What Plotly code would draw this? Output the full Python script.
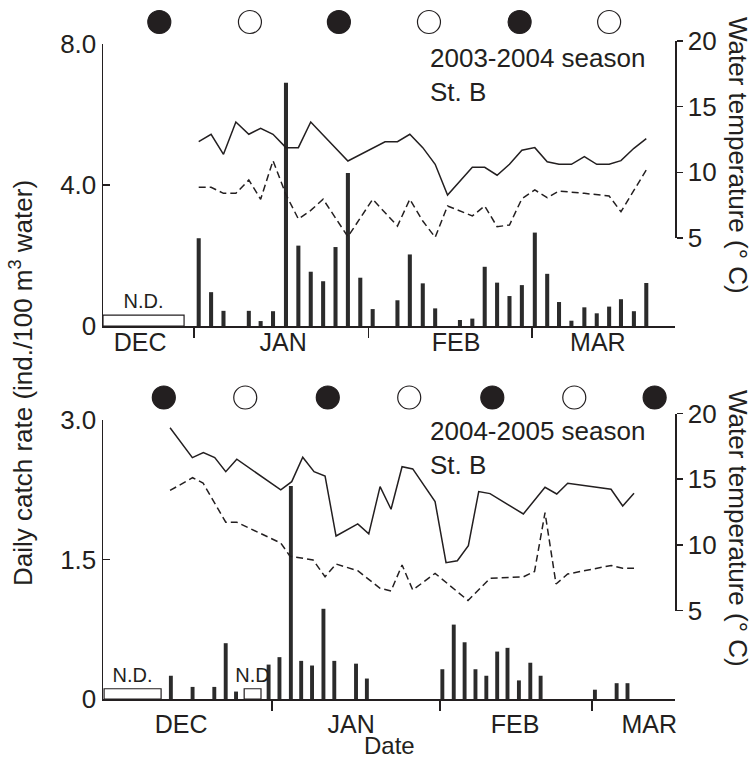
import plotly.graph_objects as go

# ---------------- data: 2003-2004 season (x = days from 1 Jan 2004) ----------------
top_bar_day = [0.8, 3.0, 5.2, 9.7, 11.8, 14.0, 16.3, 18.5, 20.7, 22.9, 25.1, 27.3, 29.5, 31.7,
               36.1, 38.3, 40.6, 42.8, 47.2, 49.4, 51.6, 53.8, 56.0, 58.2,
               60.5, 62.7, 64.8, 67.0, 69.3, 71.5, 73.7, 75.8, 78.1, 80.3]
top_catch = [2.49, 0.96, 0.43, 0.43, 0.14, 0.42, 6.9, 2.28, 1.54, 1.27, 2.24, 4.34, 1.37, 0.48,
             0.73, 2.03, 1.21, 0.50, 0.17, 0.21, 1.68, 1.23, 0.85, 1.16,
             2.65, 1.48, 0.68, 0.15, 0.53, 0.36, 0.55, 0.76, 0.42, 1.22]
top_solid_day = [0.8, 3.0, 5.2, 7.4, 9.7, 11.8, 14.0, 16.3, 18.5, 20.7, 27.3, 33.9, 36.1, 38.3,
                 40.6, 42.8, 45.0, 47.2, 49.4, 51.6, 53.8, 56.0, 58.2, 60.5, 62.7, 64.8, 67.0,
                 69.3, 71.5, 73.7, 75.8, 78.1, 80.3]
top_solid_temp = [12.33, 12.90, 11.37, 13.83, 12.90, 13.35, 12.90, 11.88, 11.88, 13.83, 10.86,
                  12.33, 12.33, 12.90, 11.88, 10.61, 8.27, 9.29, 10.38, 10.38, 9.78, 10.61, 11.68,
                  11.88, 10.81, 10.61, 10.61, 11.19, 10.61, 10.61, 10.89, 11.83, 12.56]
top_dash_day = [0.8, 3.0, 5.2, 7.4, 9.7, 11.8, 14.0, 16.3, 18.5, 20.7, 22.9, 25.1, 27.3, 31.7,
                36.1, 38.3, 40.6, 42.8, 45.0, 49.4, 51.6, 53.8, 56.0, 58.2, 60.5, 62.7, 64.8,
                69.3, 73.7, 75.8, 78.1, 80.3]
top_dash_temp = [8.86, 8.86, 8.40, 8.40, 9.42, 7.95, 10.89, 8.30, 6.45, 7.10, 7.95, 6.50, 5.10,
                 7.95, 5.91, 7.95, 6.29, 5.05, 7.44, 6.68, 7.44, 5.86, 5.99, 7.99, 8.66, 8.07,
                 8.58, 8.40, 8.20, 7.00, 8.66, 10.18]
top_moon_day = [-6.2, 9.9, 25.7, 41.7, 57.8, 73.7]
top_moon_phase = ["new", "full", "new", "full", "new", "full"]
top_nd_start = [-16.2]
top_nd_end = [-1.8]
top_nd_label = ["N.D."]
top_month_bounds = [0, 31, 60]
top_month_centers = [-9.6, 15.8, 46.5, 71.7]
top_xrange = [-16.2, 85.4]

# ---------------- data: 2004-2005 season (x = days from 1 Jan 2005) ----------------
bot_bar_day = [-18.6, -14.6, -10.6, -8.5, -6.6, -0.6, 1.4, 3.5, 5.4, 7.4, 9.5, 11.5, 15.5, 17.5,
               31.4, 33.5, 35.5, 37.5, 39.5, 41.5, 43.4, 45.5, 47.6, 49.5, 59.5, 63.5, 65.5]
bot_catch = [0.25, 0.13, 0.13, 0.60, 0.08, 0.37, 0.45, 2.29, 0.41, 0.36, 0.97, 0.41, 0.38, 0.22,
             0.32, 0.80, 0.61, 0.32, 0.25, 0.51, 0.55, 0.20, 0.39, 0.25, 0.10, 0.17, 0.17]
bot_solid_day = [-18.75, -14.64, -12.62, -10.52, -8.49, -6.46, 1.64, 3.66, 5.69, 7.77, 9.80, 11.82,
                 15.82, 17.85, 19.93, 21.95, 23.98, 25.95, 30.06, 32.08, 34.16, 36.19, 38.10,
                 40.18, 46.32, 50.31, 52.47, 54.49, 62.47, 64.62, 66.70]
bot_solid_temp = [18.92, 16.64, 17.02, 16.64, 15.57, 16.52, 14.18, 14.81, 16.67, 15.57, 15.24,
                  10.67, 11.59, 10.83, 14.43, 12.71, 15.95, 15.78, 13.29, 8.64, 8.79, 9.94, 14.06,
                  13.90, 12.35, 14.38, 13.87, 14.69, 14.23, 12.96, 13.93]
bot_dash_day = [-18.75, -14.60, -12.67, -8.49, -6.46, 1.64, 3.35, 7.59, 9.80, 11.82, 15.82, 19.93,
                21.95, 23.98, 25.95, 30.06, 36.13, 40.18, 46.35, 48.38, 50.31, 52.34, 54.48,
                62.52, 64.62, 66.70]
bot_dash_temp = [14.14, 15.11, 14.71, 11.72, 11.72, 10.14, 9.13, 8.85, 7.57, 8.54, 8.03, 6.69,
                 6.49, 8.47, 6.56, 7.83, 5.76, 7.45, 7.57, 7.97, 12.45, 7.02, 7.78, 8.43, 8.21,
                 8.21]
bot_moon_day = [-19.9, -4.9, 10.3, 25.3, 40.6, 55.7, 70.5]
bot_moon_phase = ["new", "full", "new", "full", "new", "full", "new"]
bot_nd_start = [-30.9, -5.1]
bot_nd_end = [-20.4, -2.0]
bot_nd_label = ["N.D.", "N.D"]
bot_month_bounds = [0, 31, 59]
bot_month_centers = [-16.7, 14.6, 44.8, 69.5]
bot_xrange = [-31.1, 74.25]

month_labels = ["DEC", "JAN", "FEB", "MAR"]

# ---------------- style / layout constants ----------------
W, H = 753, 773
ML, MR = 103, 78
INK = "#231f20"
BAR = "#2b2b2b"
FONT = "Liberation Sans, Arial, sans-serif"


def py(p):  # pixel row -> paper y
    return 1 - p / H


def px(p):  # pixel column -> paper x
    return (p - ML) / (W - ML - MR)


fig = go.Figure()


def add_panel(xa, ya_left, ya_right, ya_moon, bar_day, catch, sd, st, dd, dt,
              moon_day, moon_phase, nd_s, nd_e, nd_h, nd_lab):
    fig.add_trace(go.Bar(x=bar_day, y=catch, width=0.72, marker=dict(color=BAR, line_width=0),
                         xaxis=xa, yaxis=ya_left, showlegend=False, hoverinfo="skip"))
    nd_c = [(a + b) / 2 for a, b in zip(nd_s, nd_e)]
    nd_w = [b - a for a, b in zip(nd_s, nd_e)]
    fig.add_trace(go.Bar(x=nd_c, y=[nd_h] * len(nd_c), width=nd_w,
                         marker=dict(color="white", line=dict(color=INK, width=1.2)),
                         text=nd_lab, textposition="outside", cliponaxis=False,
                         constraintext="none",
                         textfont=dict(size=20, color=INK, family=FONT),
                         xaxis=xa, yaxis=ya_left, showlegend=False, hoverinfo="skip"))
    fig.add_trace(go.Scatter(x=sd, y=st, mode="lines", line=dict(color=INK, width=1.5),
                             xaxis=xa, yaxis=ya_right, showlegend=False, hoverinfo="skip"))
    fig.add_trace(go.Scatter(x=dd, y=dt, mode="lines",
                             line=dict(color=INK, width=1.5, dash="7px,4px"),
                             xaxis=xa, yaxis=ya_right, showlegend=False, hoverinfo="skip"))
    fill = [INK if p == "new" else "white" for p in moon_phase]
    fig.add_trace(go.Scatter(x=moon_day, y=[1] * len(moon_day), mode="markers",
                             marker=dict(size=23, color=fill, line=dict(color=INK, width=1.2)),
                             xaxis=xa, yaxis=ya_moon, showlegend=False, cliponaxis=False,
                             hoverinfo="skip"))


add_panel("x", "y", "y3", "y5", top_bar_day, top_catch, top_solid_day, top_solid_temp,
          top_dash_day, top_dash_temp, top_moon_day, top_moon_phase,
          top_nd_start, top_nd_end, 0.31, top_nd_label)
add_panel("x2", "y2", "y4", "y6", bot_bar_day, bot_catch, bot_solid_day, bot_solid_temp,
          bot_dash_day, bot_dash_temp, bot_moon_day, bot_moon_phase,
          bot_nd_start, bot_nd_end, 0.11, bot_nd_label)

tickfont = dict(size=26, color=INK, family=FONT)


def xaxis_cfg(anchor, rng, centers, bounds, standoff):
    return dict(domain=[0, 1], anchor=anchor, range=rng, showline=True, linecolor=INK,
                linewidth=1.5, showgrid=False, zeroline=False,
                tickmode="array", tickvals=centers, ticktext=month_labels,
                ticks="outside", ticklen=0, tickcolor=INK, ticklabelstandoff=standoff,
                tickfont=dict(size=25, color=INK, family=FONT),
                minor=dict(tickmode="array", tickvals=bounds, ticks="outside", ticklen=10,
                           tickwidth=1.5, tickcolor=INK, showgrid=False),
                automargin=False, fixedrange=True)


def yleft_cfg(anchor, dom, rng, vals, texts):
    return dict(domain=dom, anchor=anchor, range=rng, showline=True, linecolor=INK,
                linewidth=1.5, showgrid=False, zeroline=False, tickmode="array",
                tickvals=vals, ticktext=texts, ticks="inside", ticklen=7, tickwidth=1.5,
                tickcolor=INK, tickfont=tickfont, automargin=False, fixedrange=True)


def yright_cfg(anchor, dom):
    return dict(domain=dom, anchor=anchor, range=[5, 20], side="right", showline=True,
                linecolor=INK, linewidth=1.5, showgrid=False, zeroline=False,
                tickmode="array", tickvals=[5, 10, 15, 20], ticks="outside", ticklen=6,
                tickwidth=1.5, tickcolor=INK, tickfont=tickfont, automargin=False,
                fixedrange=True)


def ymoon_cfg(anchor, center_px):
    c = py(center_px)
    return dict(domain=[c - 0.02, c + 0.02], anchor=anchor, range=[0, 2], visible=False,
                fixedrange=True)


fig.update_layout(
    width=W, height=H, template="none",
    margin=dict(l=ML, r=MR, t=0, b=0),
    paper_bgcolor="white", plot_bgcolor="rgba(0,0,0,0)",
    font=dict(family=FONT, color=INK, size=26),
    barmode="overlay", showlegend=False, hovermode=False,
    xaxis=xaxis_cfg("y", top_xrange, top_month_centers, top_month_bounds, -7),
    xaxis2=xaxis_cfg("y2", bot_xrange, bot_month_centers, bot_month_bounds, 2),
    yaxis=yleft_cfg("x", [py(326), py(44)], [0, 8], [0, 4, 8], ["0", "4.0", "8.0"]),
    yaxis2=yleft_cfg("x2", [py(699), py(420)], [0, 3], [0, 1.5, 3], ["0", "1.5", "3.0"]),
    yaxis3=yright_cfg("x", [py(238), py(41)]),
    yaxis4=yright_cfg("x2", [py(610.5), py(413.5)]),
    yaxis5=ymoon_cfg("x", 22),
    yaxis6=ymoon_cfg("x2", 397.5),
)

ann = [
    dict(text="2003-2004 season<br>St. B", x=px(428), y=py(41)),
    dict(text="2004-2005 season<br>St. B", x=px(428), y=py(414)),
]
for a in ann:
    fig.add_annotation(xref="paper", yref="paper", xanchor="left", yanchor="top", align="left",
                       showarrow=False, font=dict(size=26, color=INK, family=FONT), **a)

fig.add_annotation(text="Daily catch rate (ind./100 m<sup>3</sup> water)", xref="paper",
                   yref="paper", x=px(22), y=py(383), textangle=-90, showarrow=False,
                   xanchor="center", yanchor="middle",
                   font=dict(size=26, color=INK, family=FONT))
for cy in (155, 528):
    fig.add_annotation(text="Water temperature (° C)", xref="paper", yref="paper",
                       x=px(738), y=py(cy), textangle=90, showarrow=False,
                       xanchor="center", yanchor="middle",
                       font=dict(size=26, color=INK, family=FONT))
fig.add_annotation(text="Date", xref="paper", yref="paper", x=0.5, y=py(745), showarrow=False,
                   xanchor="center", yanchor="middle",
                   font=dict(size=24, color=INK, family=FONT))

# the page body has a default 8px margin; remove it so the figure fills the window exactly
fig.write_html("out.html", config={"displayModeBar": False, "staticPlot": True},
               post_script="document.body.style.margin='0px';")
